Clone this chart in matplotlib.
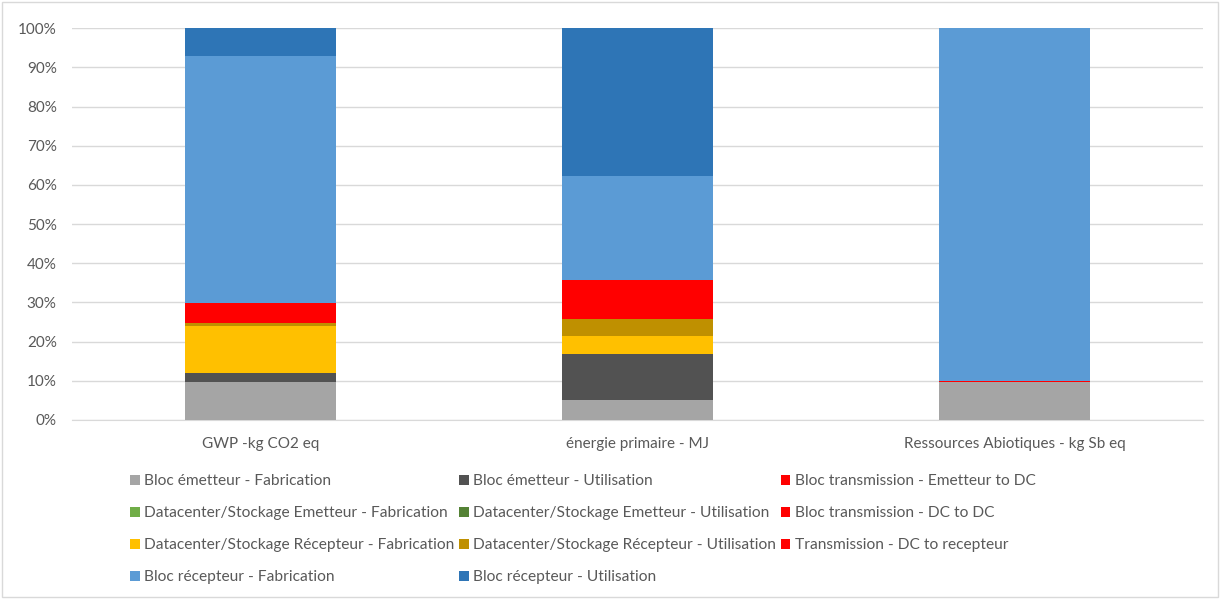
import numpy as np
import matplotlib
matplotlib.use('Agg')
import matplotlib.pyplot as plt
from matplotlib.patches import Rectangle
from matplotlib.ticker import PercentFormatter

plt.rcParams['font.family'] = ['Lato', 'DejaVu Sans']

categories = ["GWP -kg CO2 eq", "énergie primaire - MJ", "Ressources Abiotiques - kg Sb eq"]

series_names = [
    "Bloc émetteur - Fabrication",
    "Bloc émetteur - Utilisation",
    "Bloc transmission - Emetteur to DC",
    "Datacenter/Stockage Emetteur - Fabrication",
    "Datacenter/Stockage Emetteur - Utilisation",
    "Bloc transmission - DC to DC",
    "Datacenter/Stockage Récepteur - Fabrication",
    "Datacenter/Stockage Récepteur - Utilisation",
    "Transmission - DC to recepteur",
    "Bloc récepteur - Fabrication",
    "Bloc récepteur - Utilisation",
]

# share of each block in every impact category (%)
emetteur_fab = [9.8, 5.1, 9.6]
emetteur_util = [2.2, 11.7, 0.0]
trans_em_dc = [0.0, 0.0, 0.0]
dc_em_fab = [0.0, 0.0, 0.0]
dc_em_util = [0.0, 0.0, 0.0]
trans_dc_dc = [0.0, 0.0, 0.0]
dc_rec_fab = [12.0, 4.6, 0.0]
dc_rec_util = [0.8, 4.4, 0.0]
trans_dc_rec = [5.1, 9.8, 0.4]
recepteur_fab = [63.0, 26.6, 90.0]
recepteur_util = [7.1, 37.8, 0.0]

values = [emetteur_fab, emetteur_util, trans_em_dc, dc_em_fab, dc_em_util,
          trans_dc_dc, dc_rec_fab, dc_rec_util, trans_dc_rec,
          recepteur_fab, recepteur_util]

colors = ["#A5A5A5", "#525252", "#FF0000", "#70AD47", "#548235", "#FF0000",
          "#FFC000", "#BF9000", "#FF0000", "#5B9BD5", "#2E75B6"]

fig = plt.figure(figsize=(12.2, 5.99), dpi=100)
ax = fig.add_axes([0.059, 0.299, 0.927, 0.654])

x = np.arange(len(categories))
bottom = np.zeros(len(categories))
handles = []
for name, vals, col in zip(series_names, values, colors):
    vals = np.array(vals)
    b = ax.bar(x, vals, 0.4, bottom=bottom, color=col, label=name, zorder=3)
    handles.append(b)
    bottom += vals

ax.set_xlim(-0.5, 2.5)
ax.set_ylim(0, 100)
ax.set_yticks(np.arange(0, 101, 10))
ax.yaxis.set_major_formatter(PercentFormatter(decimals=0))
ax.set_xticks(x)
ax.set_xticklabels(categories)
ax.grid(axis='y', color='#D9D9D9', linewidth=1, zorder=0)
for s in ['top', 'right', 'left']:
    ax.spines[s].set_visible(False)
ax.spines['bottom'].set_color('#D9D9D9')
ax.tick_params(axis='both', length=0, colors='#595959', labelsize=11)
ax.tick_params(axis='y', pad=11)
ax.tick_params(axis='x', pad=12)

# legend is filled row by row, matplotlib fills column by column
order = [0, 3, 6, 9, 1, 4, 7, 10, 2, 5, 8]
leg = fig.legend([handles[i] for i in order], [series_names[i] for i in order],
                 ncol=3, loc='upper left', bbox_to_anchor=(0.1066, 0.208),
                 frameon=False, fontsize=11.2, handlelength=0.62, handleheight=0.62,
                 handletextpad=0.3, columnspacing=0.28, labelspacing=1.15,
                 borderaxespad=0, borderpad=0)
for t in leg.get_texts():
    t.set_color('#595959')

fig.patches.append(Rectangle((0.002, 0.003), 0.996, 0.994, transform=fig.transFigure,
                             fill=False, edgecolor='#D9D9D9', linewidth=1))

fig.savefig("out.png", dpi=100)
